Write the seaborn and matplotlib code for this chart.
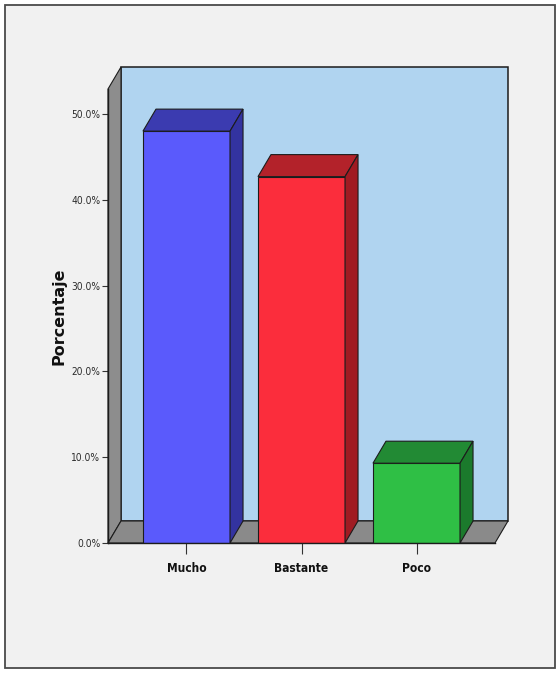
import matplotlib
matplotlib.use("Agg")
import matplotlib.pyplot as plt
import seaborn as sns
from matplotlib.patches import Polygon, Rectangle
from matplotlib.transforms import IdentityTransform
from matplotlib import font_manager

# ---- data -------------------------------------------------------------
categories = ["Mucho", "Bastante", "Poco"]
percentages = [48.0, 42.7, 9.3]
y_ticks = [0, 10, 20, 30, 40, 50]
y_tick_labels = ["0.0%", "10.0%", "20.0%", "30.0%", "40.0%", "50.0%"]

# ---- styling ----------------------------------------------------------
front_colors = ["#5a5afc", "#fb2d3c", "#2fbf45"]
top_colors = ["#3b3bb0", "#b3222a", "#228a34"]
side_colors = ["#3333a0", "#a01b22", "#1b7a2c"]
wall_color = "#b0d4f0"
side_wall_color = "#8d8d8d"
floor_color = "#8a8a8a"
edge = "#1c1c1c"

W, H = 560, 673
DX, DY = 13, 22          # depth of the 3D box, in pixels

sns.set_theme(style="white")
installed = {f.name for f in font_manager.fontManager.ttflist}
if "Liberation Sans Narrow" in installed:
    narrow = dict(family="Liberation Sans Narrow")
    ytick_size, xtick_size = 9, 10
else:
    narrow = dict(family="DejaVu Sans", stretch="condensed")
    ytick_size, xtick_size = 7.3, 8.6

fig = plt.figure(figsize=(W / 100, H / 100), dpi=100, facecolor="white")

# panel frame
fig.add_artist(Rectangle((5 / W, 1 - 668 / H), 550 / W, 663 / H,
                         transform=fig.transFigure, facecolor="#f1f1f1",
                         edgecolor="#4a4a4a", linewidth=1.3, zorder=-1))

ax = fig.add_axes([108 / W, 1 - 543 / H, 387 / W, 454 / H])
ax.set_facecolor("none")

sns.barplot(x=categories, y=percentages, hue=categories, palette=front_colors,
            saturation=1, width=0.757, edgecolor=edge, linewidth=0.8,
            legend=False, ax=ax)
bars = sorted(list(ax.patches), key=lambda p: p.get_x())

ax.set_xlim(-0.6826, 2.6826)
ax.set_ylim(0, 52.91)


def add_poly(pts, color, z, lw=0.8):
    poly = Polygon(pts, closed=True, transform=IdentityTransform(),
                   facecolor=color, edgecolor=edge, linewidth=lw,
                   zorder=z, clip_on=False)
    ax.add_artist(poly)
    poly.set_clip_on(False)


def shift(p):
    return (p[0] + DX, p[1] + DY)


# box: back wall, left wall and floor
corners = ax.transAxes.transform([(0, 0), (1, 0), (1, 1), (0, 1)])
bl, br, tr, tl = [tuple(c) for c in corners]
add_poly([shift(bl), shift(br), shift(tr), shift(tl)], wall_color, 1.0, lw=1.1)
add_poly([bl, tl, shift(tl), shift(bl)], side_wall_color, 1.2)
add_poly([bl, br, shift(br), shift(bl)], floor_color, 1.4)

# 3D faces of each bar
for i, bar in enumerate(bars):
    bar.set_zorder(3)
    x0, x1 = bar.get_x(), bar.get_x() + bar.get_width()
    y0, y1 = 0, bar.get_height()
    (ax0, ay0), (ax1, ay1) = ax.transData.transform([(x0, y0), (x1, y1)])
    add_poly([(ax0, ay1), (ax1, ay1), shift((ax1, ay1)), shift((ax0, ay1))],
             top_colors[i], 3.1)
    add_poly([(ax1, ay0), (ax1, ay1), shift((ax1, ay1)), shift((ax1, ay0))],
             side_colors[i], 3.1)

# axes
for s in ["top", "right"]:
    ax.spines[s].set_visible(False)
for s in ["left", "bottom"]:
    ax.spines[s].set_color(edge)
    ax.spines[s].set_linewidth(1.0)
    ax.spines[s].set_zorder(3.5)

ax.set_yticks(y_ticks)
ax.set_yticklabels(y_tick_labels, fontsize=ytick_size, color="#2a2a2a", **narrow)
ax.set_xticks(range(len(categories)))
ax.set_xticklabels(categories, fontsize=xtick_size, fontweight="bold",
                   color="#111111", **narrow)
ax.tick_params(axis="y", left=True, length=4, width=0.8, color="#333333", pad=1.5)
ax.tick_params(axis="x", bottom=True, length=8, width=0.8, color="#333333", pad=5.5)
ax.set_xlabel("")
ax.set_ylabel("")

fig.text(59 / W, 1 - 316 / H, "Porcentaje", rotation=90, ha="center",
         va="center", fontsize=11.5, fontweight="bold", color="#111111",
         family="DejaVu Sans")

fig.savefig("out.png", dpi=100)
